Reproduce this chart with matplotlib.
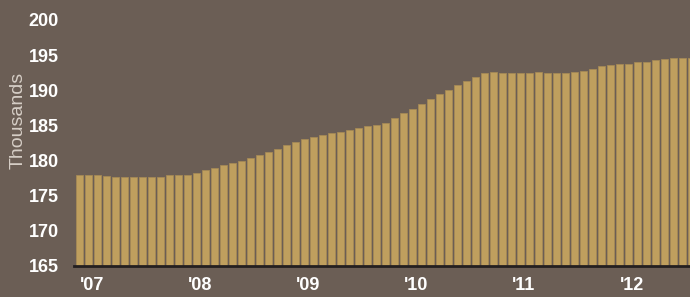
from matplotlib import pyplot as plt
import numpy as np

BACKGROUND = "#6b5e55"
BAR_COLOR = "#bf9f5e"

# monthly values, Jan 2007 onwards (thousands)
values = [
    177.9, 177.9, 177.9, 177.8, 177.7, 177.6, 177.6, 177.6, 177.6, 177.6, 177.9, 178.0,
    178.0, 178.3, 178.6, 179.0, 179.4, 179.7, 180.0, 180.4, 180.8, 181.2, 181.6, 182.2,
    182.7, 183.1, 183.4, 183.7, 183.9, 184.1, 184.4, 184.7, 184.9, 185.1, 185.3, 186.0,
    186.7, 187.4, 188.1, 188.8, 189.5, 190.1, 190.8, 191.3, 191.9, 192.4, 192.6, 192.5,
    192.5, 192.5, 192.5, 192.6, 192.5, 192.4, 192.4, 192.6, 192.8, 193.0, 193.4, 193.6,
    193.7, 193.8, 194.0, 194.0, 194.3, 194.4, 194.6, 194.6, 194.6,
]
year_labels = ["'07", "'08", "'09", "'10", "'11", "'12"]
y_ticks = [165, 170, 175, 180, 185, 190, 195, 200]

plt.rcParams["font.family"] = ["Liberation Sans", "DejaVu Sans"]

fig = plt.figure(figsize=(6.9, 2.97), dpi=100, facecolor=BACKGROUND)
ax = fig.add_axes([74 / 690, 31 / 297, 616 / 690, 246 / 297])
ax.set_facecolor(BACKGROUND)

x = np.arange(len(values))
ax.bar(x, np.array(values) - 165, bottom=165, width=0.72, color=BAR_COLOR,
       edgecolor="#a98c55", linewidth=0.5, zorder=2)

ax.set_ylim(165, 200)
ax.set_xlim(-0.61, 67.83)

for side in ["top", "right", "left"]:
    ax.spines[side].set_visible(False)
ax.spines["bottom"].set_color("#231f20")
ax.spines["bottom"].set_linewidth(2)
ax.spines["bottom"].set_zorder(3)

ax.set_yticks(y_ticks)
ax.set_yticklabels([str(t) for t in y_ticks], fontsize=13, fontweight="bold", color="white")
ax.set_xticks(np.arange(len(year_labels)) * 12)
ax.set_xticklabels(year_labels, fontsize=13, fontweight="bold", color="white", ha="left")
ax.tick_params(axis="y", length=0, pad=11)
ax.tick_params(axis="x", length=0, pad=8)

ax.set_ylabel("Thousands", fontsize=14, color="#d6cec6")
ax.yaxis.set_label_coords(-47 / 616, 0.59)

fig.savefig("out.png", dpi=100, facecolor=BACKGROUND)
